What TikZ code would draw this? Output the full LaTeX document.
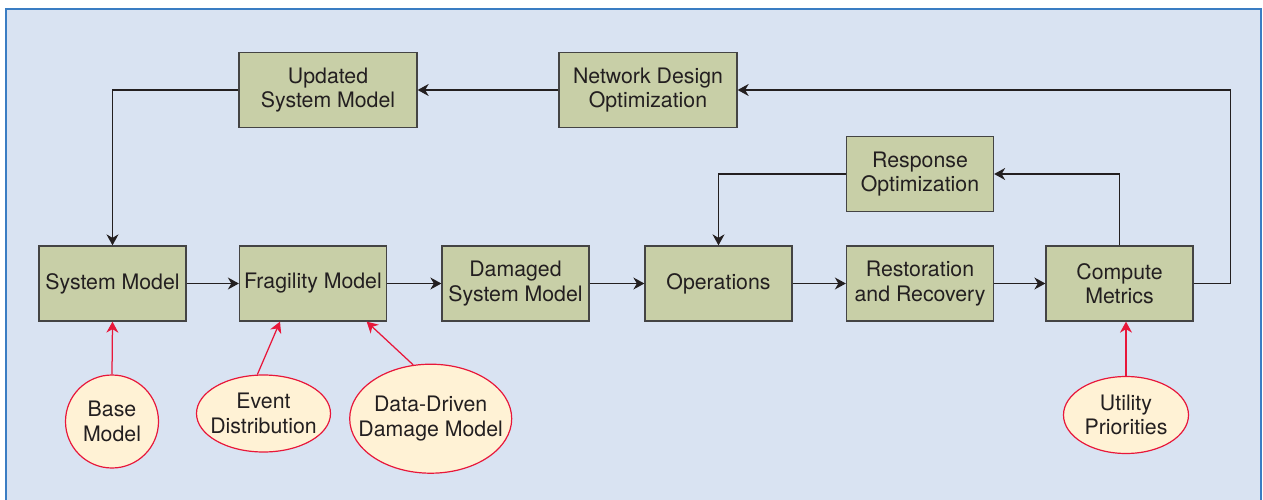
\documentclass[tikz,border=0pt]{standalone}
\usepackage{fontspec}
\setmainfont{TeX Gyre Heros}
\usetikzlibrary{arrows.meta,shapes.geometric,calc}
\definecolor{bgblue}{HTML}{D9E3F2}
\definecolor{frameblue}{HTML}{3A7DC3}
\definecolor{boxfill}{HTML}{C8CFA7}
\definecolor{boxline}{HTML}{444444}
\definecolor{ellfill}{HTML}{FFF2D5}
\definecolor{redline}{HTML}{E8173A}
\definecolor{txt}{HTML}{231F20}
\begin{document}
\begin{tikzpicture}[x=1pt,y=-1pt,
  box/.style={draw=boxline,line width=1.3pt,fill=boxfill,rectangle,minimum width=147pt,minimum height=75pt,inner sep=0pt,align=center,text=txt,font=\fontsize{21.3}{24.5}\selectfont},
  widebox/.style={box,minimum width=178pt},
  ell/.style={draw=redline,line width=1.2pt,fill=ellfill,ellipse,inner sep=0pt},
  elltext/.style={align=center,text=txt,font=\fontsize{21.3}{24.5}\selectfont,inner sep=0pt},
  conn/.style={draw=txt,line width=1.25pt,-{Stealth[length=11pt,width=12pt,inset=3.5pt]}},
  redconn/.style={draw=redline,line width=1.25pt,-{Stealth[length=11pt,width=12pt,inset=3.5pt]}}]
\useasboundingbox (0,0) rectangle (1263,500);
\path[fill=white] (0,0) rectangle (1263,500);
\draw[frameblue,line width=2pt,fill=bgblue] (6,9) rectangle (1260.5,530);
% main row
\node[box] (sys) at (112.5,283.5) {System Model};
\node[box] (frag) at (313,283.5) {Fragility Model};
\node[box] (dam) at (515.5,283.5) {Damaged\\System Model};
\node[box] (ops) at (718.5,283.5) {Operations};
\node[box] (rest) at (920,283.5) {Restoration\\and Recovery};
\node[box] (cm) at (1119.5,283.5) {Compute\\Metrics};
% upper
\node[box] (resp) at (920,174) {Response\\Optimization};
\node[widebox] (upd) at (328,90) {Updated\\System Model};
\node[widebox] (net) at (648,90) {Network Design\\Optimization};
% ellipses
\node[ell,minimum width=93pt,minimum height=93pt,label={[elltext]center:Base\\Model}] (base) at (112,421.5) {};
\node[ell,minimum width=134pt,minimum height=77pt,label={[elltext]center:Event\\Distribution}] (ev) at (263.5,413.5) {};
\node[ell,minimum width=162pt,minimum height=109pt,label={[elltext]center:Data-Driven\\Damage Model}] (dd) at (430.7,418.7) {};
\node[ell,minimum width=125pt,minimum height=77pt,label={[elltext]center:Utility\\Priorities}] (up) at (1126,415) {};
\coordinate (cr) at (1230.7,283.5);
% connectors
\draw[conn] (sys.east) -- (frag.west);
\draw[conn] (frag.east) -- (dam.west);
\draw[conn] (dam.east) -- (ops.west);
\draw[conn] (ops.east) -- (rest.west);
\draw[conn] (rest.east) -- (cm.west);
\draw[conn] (cm.north) |- (resp.east);
\draw[conn] (resp.west) -| (ops.north);
\draw[conn] (cm.east) -- (cr) |- (net.east);
\draw[conn] (net.west) -- (upd.east);
\draw[conn] (upd.west) -| (sys.north);
% red connectors
\draw[redconn] (base.north) -- (sys.south);
\draw[redconn] (ev.99) -- ($(frag.south)+(-33,0)$);
\draw[redconn] (dd.108) -- ($(frag.south)+(53.7,0)$);
\draw[redconn] (up.north) -- (up.north |- cm.south);
\end{tikzpicture}
\end{document}
